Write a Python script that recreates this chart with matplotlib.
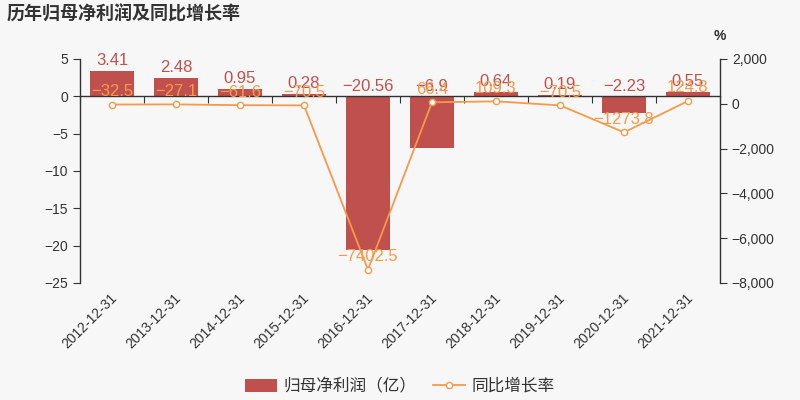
import matplotlib
matplotlib.use("Agg")
import matplotlib.pyplot as plt
import matplotlib.transforms as mtransforms
from matplotlib.ticker import FuncFormatter, FixedLocator
from matplotlib.patches import FancyBboxPatch
from matplotlib.legend_handler import HandlerPatch
import numpy as np

plt.rcParams['font.family'] = ['Liberation Sans', 'Noto Sans CJK SC', 'DejaVu Sans']

# data
dates = ['2012-12-31', '2013-12-31', '2014-12-31', '2015-12-31', '2016-12-31',
         '2017-12-31', '2018-12-31', '2019-12-31', '2020-12-31', '2021-12-31']
profit = [3.41, 2.48, 0.95, 0.28, -20.56, -6.9, 0.64, 0.19, -2.23, 0.55]
growth = [-32.5, -27.1, -61.6, -70.5, -7402.5, 66.4, 109.3, -70.5, -1273.8, 124.8]

bar_color = '#c0504d'
line_color = '#f59a4a'
axis_color = '#333333'
bg = '#f7f7f7'


def fmt(v):
    s = f'{v:g}'
    return s.replace('-', '\u2212')


# rounded legend key for the bars
class RoundBox(HandlerPatch):
    def create_artists(self, legend, orig, xd, yd, w, h, fs, trans):
        p = FancyBboxPatch((-xd + 1, -yd - 1), w - 2, h + 2,
                           boxstyle='round,pad=0,rounding_size=3',
                           fc=orig.get_facecolor(), ec='none', transform=trans)
        return [p]


fig = plt.figure(figsize=(8, 4), dpi=100, facecolor=bg)
ax = fig.add_axes([0.1, 0.2925, 0.8, 0.56], facecolor=bg)
ax2 = ax.twinx()

x = np.arange(len(dates))
bars = ax.bar(x, profit, width=0.7, color=bar_color, zorder=2, label='归母净利润（亿）')
ax.set_xlim(-0.5, len(dates) - 0.5)
ax.set_ylim(-25, 5)
ax.set_yticks(range(-25, 6, 5))

ax2.plot(x, growth, color=line_color, lw=1.3, marker='o', ms=4.5,
         mfc='white', mec=line_color, mew=1.0, zorder=3, label='同比增长率')
ax2.set_ylim(-8000, 2000)
ax2.set_yticks(range(-8000, 2001, 2000))
ax2.yaxis.set_major_formatter(FuncFormatter(lambda v, p: f'{v:,.0f}'.replace('-', '\u2212')))

# value labels
for xi, v in zip(x, profit):
    ytop = max(v, 0)
    ax.annotate(fmt(v), (xi, ytop), xytext=(0, 2), textcoords='offset points',
                ha='center', va='bottom', color=bar_color, fontsize=12, zorder=4)
for xi, v in zip(x, growth):
    ax2.annotate(fmt(v), (xi, v), xytext=(0, 4), textcoords='offset points',
                 ha='center', va='bottom', color=line_color, fontsize=12, zorder=5)

# axes styling
for a in (ax, ax2):
    a.spines['top'].set_visible(False)
ax.spines['right'].set_visible(False)
ax2.spines['left'].set_visible(False)
ax2.spines['bottom'].set_visible(False)
ax.spines['bottom'].set_position(('data', 0))
for sp in (ax.spines['left'], ax.spines['bottom'], ax2.spines['right']):
    sp.set_color(axis_color)
    sp.set_linewidth(1)

ax.xaxis.set_major_locator(FixedLocator(np.arange(-0.5, len(dates), 1.0)))
ax.tick_params(axis='x', length=5, color=axis_color, labelbottom=False)
ax.tick_params(axis='y', length=5, color=axis_color, labelcolor=axis_color, labelsize=10)
ax2.tick_params(axis='y', length=5, color=axis_color, labelcolor=axis_color, labelsize=10)

# category labels at the bottom of the plot
trans = mtransforms.blended_transform_factory(ax.transData, ax.transAxes)
for xi, d in zip(x, dates):
    ax.text(xi - 0.03, -0.035, d, transform=trans, rotation=45, ha='right', va='top',
            rotation_mode='anchor', fontsize=10, color=axis_color)

ax2.text(1.0, 1.07, '%', transform=ax2.transAxes, ha='center', va='bottom',
         fontsize=10, fontweight='bold', color=axis_color)

fig.text(0.008, 0.965, '历年归母净利润及同比增长率', ha='left', va='center',
         fontsize=13, fontweight='bold', color='#333333')

h1, l1 = ax.get_legend_handles_labels()
h2, l2 = ax2.get_legend_handles_labels()
fig.legend(h1 + h2, l1 + l2, loc='center', bbox_to_anchor=(0.5, 0.035), ncol=2,
           frameon=False, fontsize=12, handlelength=1.9, handleheight=0.8,
           handletextpad=0.4, columnspacing=1.0, labelcolor=axis_color,
           handler_map={bars.patches[0].__class__: RoundBox()})

fig.savefig('out.png', dpi=100, facecolor=bg)
